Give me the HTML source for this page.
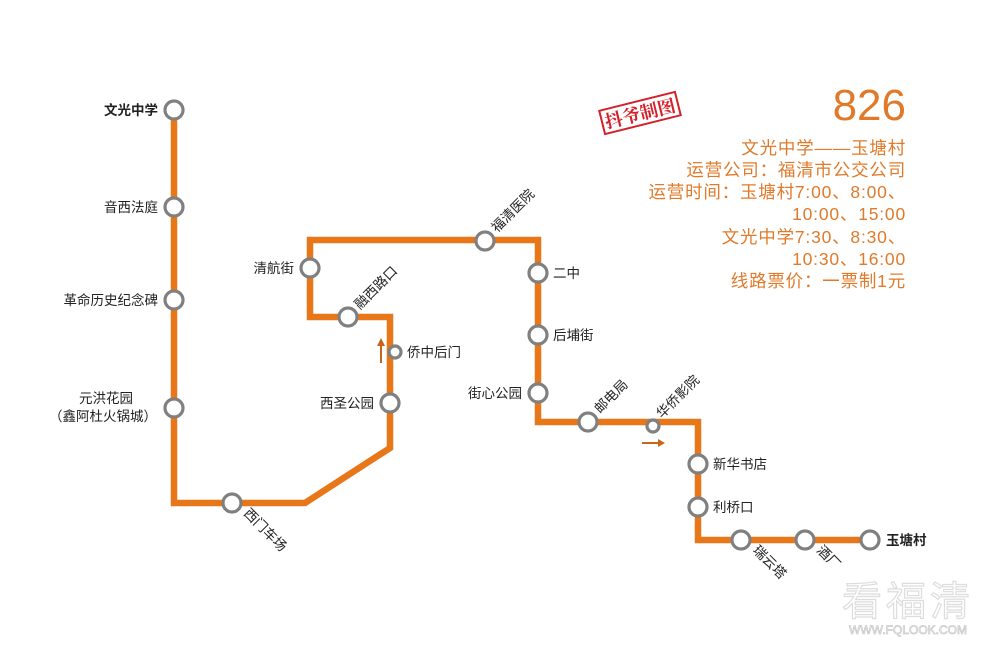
<!DOCTYPE html>
<html><head><meta charset="utf-8"><style>
body{margin:0;background:#fff;}
svg{display:block}
.s{fill:#fff;stroke:#808080;stroke-width:3.2}
.t{font-family:"Liberation Sans","Noto Sans CJK SC",sans-serif;font-size:13.5px;fill:#222}
.o{font-family:"Liberation Sans","Noto Sans CJK SC",sans-serif;font-size:17.5px;fill:#e07a2a;text-anchor:end;letter-spacing:0.8px}
</style></head><body>
<svg width="1000" height="663" viewBox="0 0 1000 663">
<polyline points="174,110 174,503 305,503 390,448 390,317 310,317 310,240 538,240 538,422 698,422 698,540 870,540" fill="none" stroke="#e8771a" stroke-width="6.5" stroke-linejoin="miter"/>
<g class="s">
<circle cx="174" cy="110" r="9"/><circle cx="174" cy="207" r="9"/><circle cx="174" cy="300" r="9"/><circle cx="174" cy="408" r="9"/>
<circle cx="232" cy="503" r="9"/><circle cx="390" cy="403" r="9"/><circle cx="395" cy="352" r="6"/><circle cx="348" cy="317" r="9"/>
<circle cx="310" cy="268" r="9"/><circle cx="485" cy="241" r="9"/><circle cx="538" cy="273" r="9"/><circle cx="538" cy="335" r="9"/>
<circle cx="538" cy="393" r="9"/><circle cx="588" cy="422" r="9"/><circle cx="653" cy="426" r="6"/><circle cx="698" cy="464" r="9"/>
<circle cx="698" cy="507" r="9"/><circle cx="741" cy="540" r="9"/><circle cx="805" cy="540" r="9"/><circle cx="870" cy="540" r="9"/>
</g>
<g fill="#c8651a" stroke="#c8651a">
<line x1="381" y1="363" x2="381" y2="344" stroke-width="2"/><polygon points="377,346 385,346 381,338" stroke="none"/>
<line x1="642" y1="443" x2="660" y2="443" stroke-width="2"/><polygon points="658,439 658,447 665,443" stroke="none"/>
</g>
<g class="t">
<text x="158" y="115" text-anchor="end" font-weight="bold">文光中学</text>
<text x="158" y="212" text-anchor="end">音西法庭</text>
<text x="158" y="305" text-anchor="end">革命历史纪念碑</text>
<text x="106" y="403" text-anchor="middle">元洪花园</text>
<text x="157" y="421" text-anchor="end">（鑫阿杜火锅城）</text>
<text x="294" y="273" text-anchor="end">清航街</text>
<text x="374" y="408" text-anchor="end">西圣公园</text>
<text x="407" y="357">侨中后门</text>
<text x="522" y="398" text-anchor="end">街心公园</text>
<text x="553" y="278">二中</text>
<text x="553" y="340">后埔街</text>
<text x="713" y="469">新华书店</text>
<text x="713" y="512">利桥口</text>
<text x="886" y="545" font-weight="bold">玉塘村</text>
<text transform="translate(243,514) rotate(45)">西门车场</text>
<text transform="translate(360,310) rotate(-45)">融西路口</text>
<text transform="translate(497,233) rotate(-45)">福清医院</text>
<text transform="translate(600,414) rotate(-45)">邮电局</text>
<text transform="translate(662,419) rotate(-45)">华侨影院</text>
<text transform="translate(752,551) rotate(45)">瑞云塔</text>
<text transform="translate(816,551) rotate(45)">酒厂</text>
</g>
<text x="906" y="120" class="o" style="font-size:44px;letter-spacing:0">826</text>
<g class="o">
<text x="906" y="154">文光中学——玉塘村</text>
<text x="906" y="176">运营公司：福清市公交公司</text>
<text x="906" y="198">运营时间：玉塘村7:00、8:00、</text>
<text x="906" y="220">10:00、15:00</text>
<text x="906" y="243">文光中学7:30、8:30、</text>
<text x="906" y="265">10:30、16:00</text>
<text x="906" y="287">线路票价：一票制1元</text>
</g>
<g transform="translate(640,113) rotate(-14)">
<rect x="-39" y="-12" width="78" height="24" fill="none" stroke="#d4202a" stroke-width="2"/>
<text x="0" y="7" text-anchor="middle" font-family="'Liberation Serif','Noto Serif CJK SC',serif" font-size="18" font-weight="bold" fill="#d4202a">抖爷制图</text>
</g>
<text x="908" y="615" text-anchor="middle" font-family="'Liberation Sans','Noto Sans CJK SC',sans-serif" font-size="40" fill="none" stroke="#ddd" stroke-width="1.2" letter-spacing="4">看福清</text>
<text x="908" y="634" text-anchor="middle" font-family="'Liberation Sans',sans-serif" font-size="12" fill="none" stroke="#ccc" stroke-width="0.8">WWW.FQLOOK.COM</text>
</svg>
</body></html>
